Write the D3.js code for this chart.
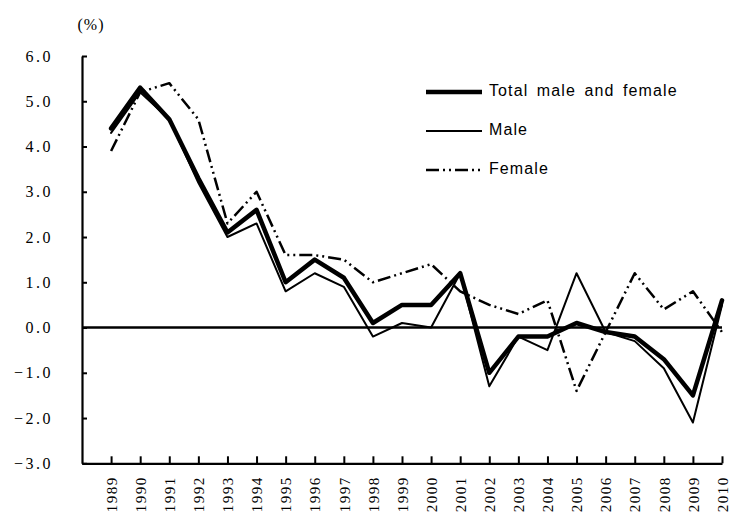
<!DOCTYPE html>
<html><head><meta charset="utf-8">
<script src="https://cdn.jsdelivr.net/npm/d3@7"></script>
<style>
html,body{margin:0;padding:0;background:#fff;}
svg{display:block;}
</style></head>
<body>
<svg id="chart" width="733" height="512"></svg>
<script>
const years = [1989,1990,1991,1992,1993,1994,1995,1996,1997,1998,1999,2000,2001,2002,2003,2004,2005,2006,2007,2008,2009,2010];
const totalValues = [4.4,5.3,4.6,3.3,2.1,2.6,1.0,1.5,1.1,0.1,0.5,0.5,1.2,-1.0,-0.2,-0.2,0.1,-0.1,-0.2,-0.7,-1.5,0.6];
const maleValues = [4.3,5.2,4.6,3.2,2.0,2.3,0.8,1.2,0.9,-0.2,0.1,0.0,1.2,-1.3,-0.2,-0.5,1.2,-0.1,-0.3,-0.9,-2.1,0.5];
const femaleValues = [3.9,5.2,5.4,4.6,2.3,3.0,1.6,1.6,1.5,1.0,1.2,1.4,0.8,0.5,0.3,0.6,-1.4,-0.1,1.2,0.4,0.8,-0.1];
const yTicks = [-3,-2,-1,0,1,2,3,4,5,6];
const seriesNames = ["Total male and female","Male","Female"];
const unitLabel = "(%)";

const svg = d3.select("#chart");
const x = d3.scaleLinear().domain([1988, 2010]).range([82, 722]);
const y = d3.scaleLinear().domain([-3, 6]).range([463.3, 56]);

const serif = "'Liberation Serif','DejaVu Serif',serif";
const sans = "'Liberation Sans',Arial,sans-serif";

// y axis
const yAxis = svg.append("g").attr("transform", `translate(${x(1988)},0)`)
  .call(d3.axisLeft(y).tickValues(yTicks).tickSizeInner(-5).tickSizeOuter(0).tickPadding(29)
    .tickFormat(d => d3.format(".1f")(d)));
yAxis.select(".domain").attr("stroke", "#000").attr("stroke-width", 2.2);
yAxis.selectAll(".tick line").attr("stroke", "#000").attr("stroke-width", 2);
yAxis.selectAll(".tick text").attr("font-family", serif).attr("font-size", 16)
  .attr("letter-spacing", 2.5).attr("fill", "#000");

// x axis
const xAxis = svg.append("g").attr("transform", `translate(0,${y(-3)})`)
  .call(d3.axisBottom(x).tickValues(years).tickSizeInner(-7).tickSizeOuter(0).tickFormat(d3.format("d")));
xAxis.select(".domain").attr("stroke", "#000").attr("stroke-width", 2.2);
xAxis.selectAll(".tick line").attr("stroke", "#000").attr("stroke-width", 2);
xAxis.selectAll(".tick text")
  .attr("transform", "rotate(-90)").attr("x", -13).attr("y", 0).attr("dy", "0.35em")
  .style("text-anchor", "end")
  .attr("font-family", serif).attr("font-size", 15).attr("letter-spacing", 1.5).attr("fill", "#000");

// zero line
svg.append("line").attr("x1", x(1988)).attr("x2", x(2010)).attr("y1", y(0)).attr("y2", y(0))
  .attr("stroke", "#000").attr("stroke-width", 2.5);

// unit label
svg.append("text").attr("x", 91).attr("y", 26).attr("text-anchor", "middle").attr("dominant-baseline", "middle")
  .attr("font-family", serif).attr("font-size", 16).attr("letter-spacing", 1).text(unitLabel);

const styles = [
  {w: 4.5, dash: null},
  {w: 2, dash: null},
  {w: 2.5, dash: "13,4,2,4,2,4"}
];
const seriesData = [totalValues, maleValues, femaleValues];
const line = d3.line().x((d, i) => x(years[i])).y(d => y(d));

// draw in order female, male, total (total on top)
[2,1,0].forEach(k => {
  svg.append("path").datum(seriesData[k]).attr("d", line)
    .attr("fill", "none").attr("stroke", "#000").attr("stroke-width", styles[k].w)
    .attr("stroke-linejoin", "round").attr("stroke-linecap", k === 2 ? "butt" : "round")
    .attr("stroke-dasharray", styles[k].dash);
});

// legend
const legendY = [92, 131, 170];
seriesNames.forEach((name, k) => {
  svg.append("line").attr("x1", 426).attr("x2", 482).attr("y1", legendY[k]).attr("y2", legendY[k])
    .attr("stroke", "#000").attr("stroke-width", styles[k].w).attr("stroke-dasharray", styles[k].dash);
  svg.append("text").attr("x", 489).attr("y", legendY[k]).attr("dominant-baseline", "middle")
    .attr("font-family", sans).attr("font-size", 16).attr("letter-spacing", 1.1)
    .attr("word-spacing", 3).text(name);
});
</script>
</body></html>
